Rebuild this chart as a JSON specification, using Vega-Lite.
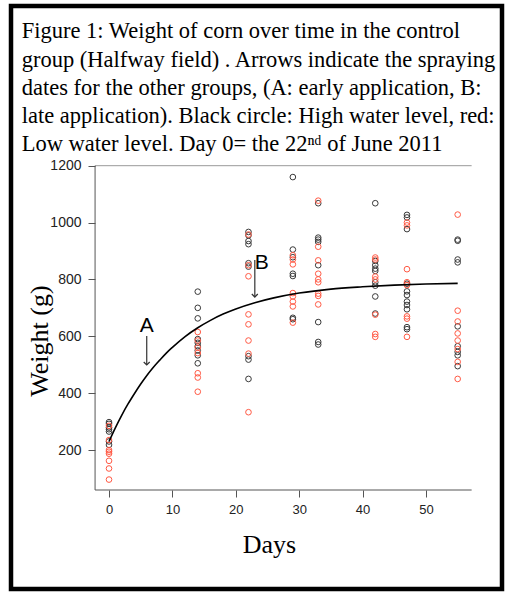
{
  "$schema": "https://vega.github.io/schema/vega-lite/v6.json",
  "width": 491,
  "height": 583,
  "autosize": {"type": "none"},
  "padding": {"left": 11, "top": 6, "right": 10, "bottom": 3},
  "background": "white",
  "config": {"view": {"stroke": "black", "strokeWidth": 4.5, "fill": "white"}},
  "title": {
    "text": [
      "Figure 1: Weight of corn over time in the control",
      "group (Halfway field) . Arrows indicate the spraying",
      "dates for the other groups, (A: early application, B:",
      "late application). Black circle: High water level, red:",
      "Low water level. Day 0= the 22ⁿᵈ of June 2011"
    ],
    "anchor": "start",
    "frame": "group",
    "font": "Liberation Serif",
    "fontSize": 22.5,
    "fontWeight": "normal",
    "color": "black",
    "lineHeight": 28.3,
    "baseline": "alphabetic",
    "offset": 0,
    "dx": 10.7,
    "dy": 168
  },
  "datasets": {
    "corn": [
      {"day": 0, "weight": 298, "water": "High"},
      {"day": 0, "weight": 292, "water": "High"},
      {"day": 0, "weight": 279, "water": "High"},
      {"day": 0, "weight": 273, "water": "High"},
      {"day": 0, "weight": 265, "water": "High"},
      {"day": 0, "weight": 230, "water": "High"},
      {"day": 0, "weight": 218, "water": "High"},
      {"day": 0, "weight": 285, "water": "Low"},
      {"day": 0, "weight": 235, "water": "Low"},
      {"day": 0, "weight": 200, "water": "Low"},
      {"day": 0, "weight": 194, "water": "Low"},
      {"day": 0, "weight": 187, "water": "Low"},
      {"day": 0, "weight": 162, "water": "Low"},
      {"day": 0, "weight": 135, "water": "Low"},
      {"day": 0, "weight": 96, "water": "Low"},
      {"day": 14, "weight": 757, "water": "High"},
      {"day": 14, "weight": 700, "water": "High"},
      {"day": 14, "weight": 663, "water": "High"},
      {"day": 14, "weight": 590, "water": "High"},
      {"day": 14, "weight": 577, "water": "High"},
      {"day": 14, "weight": 565, "water": "High"},
      {"day": 14, "weight": 550, "water": "High"},
      {"day": 14, "weight": 533, "water": "High"},
      {"day": 14, "weight": 505, "water": "High"},
      {"day": 14, "weight": 615, "water": "Low"},
      {"day": 14, "weight": 585, "water": "Low"},
      {"day": 14, "weight": 560, "water": "Low"},
      {"day": 14, "weight": 541, "water": "Low"},
      {"day": 14, "weight": 470, "water": "Low"},
      {"day": 14, "weight": 455, "water": "Low"},
      {"day": 14, "weight": 405, "water": "Low"},
      {"day": 22, "weight": 967, "water": "High"},
      {"day": 22, "weight": 955, "water": "High"},
      {"day": 22, "weight": 935, "water": "High"},
      {"day": 22, "weight": 924, "water": "High"},
      {"day": 22, "weight": 857, "water": "High"},
      {"day": 22, "weight": 845, "water": "High"},
      {"day": 22, "weight": 530, "water": "High"},
      {"day": 22, "weight": 518, "water": "High"},
      {"day": 22, "weight": 450, "water": "High"},
      {"day": 22, "weight": 958, "water": "Low"},
      {"day": 22, "weight": 850, "water": "Low"},
      {"day": 22, "weight": 811, "water": "Low"},
      {"day": 22, "weight": 677, "water": "Low"},
      {"day": 22, "weight": 642, "water": "Low"},
      {"day": 22, "weight": 585, "water": "Low"},
      {"day": 22, "weight": 539, "water": "Low"},
      {"day": 22, "weight": 333, "water": "Low"},
      {"day": 29, "weight": 1160, "water": "High"},
      {"day": 29, "weight": 905, "water": "High"},
      {"day": 29, "weight": 878, "water": "High"},
      {"day": 29, "weight": 820, "water": "High"},
      {"day": 29, "weight": 812, "water": "High"},
      {"day": 29, "weight": 665, "water": "High"},
      {"day": 29, "weight": 660, "water": "High"},
      {"day": 29, "weight": 885, "water": "Low"},
      {"day": 29, "weight": 870, "water": "Low"},
      {"day": 29, "weight": 853, "water": "Low"},
      {"day": 29, "weight": 752, "water": "Low"},
      {"day": 29, "weight": 740, "water": "Low"},
      {"day": 29, "weight": 722, "water": "Low"},
      {"day": 29, "weight": 705, "water": "Low"},
      {"day": 29, "weight": 648, "water": "Low"},
      {"day": 33, "weight": 1068, "water": "High"},
      {"day": 33, "weight": 947, "water": "High"},
      {"day": 33, "weight": 940, "water": "High"},
      {"day": 33, "weight": 932, "water": "High"},
      {"day": 33, "weight": 850, "water": "High"},
      {"day": 33, "weight": 650, "water": "High"},
      {"day": 33, "weight": 580, "water": "High"},
      {"day": 33, "weight": 571, "water": "High"},
      {"day": 33, "weight": 1077, "water": "Low"},
      {"day": 33, "weight": 915, "water": "Low"},
      {"day": 33, "weight": 867, "water": "Low"},
      {"day": 33, "weight": 820, "water": "Low"},
      {"day": 33, "weight": 800, "water": "Low"},
      {"day": 33, "weight": 790, "water": "Low"},
      {"day": 33, "weight": 750, "water": "Low"},
      {"day": 33, "weight": 742, "water": "Low"},
      {"day": 33, "weight": 712, "water": "Low"},
      {"day": 42, "weight": 1068, "water": "High"},
      {"day": 42, "weight": 865, "water": "High"},
      {"day": 42, "weight": 850, "water": "High"},
      {"day": 42, "weight": 838, "water": "High"},
      {"day": 42, "weight": 830, "water": "High"},
      {"day": 42, "weight": 790, "water": "High"},
      {"day": 42, "weight": 778, "water": "High"},
      {"day": 42, "weight": 740, "water": "High"},
      {"day": 42, "weight": 680, "water": "High"},
      {"day": 42, "weight": 877, "water": "Low"},
      {"day": 42, "weight": 870, "water": "Low"},
      {"day": 42, "weight": 810, "water": "Low"},
      {"day": 42, "weight": 800, "water": "Low"},
      {"day": 42, "weight": 676, "water": "Low"},
      {"day": 42, "weight": 608, "water": "Low"},
      {"day": 42, "weight": 598, "water": "Low"},
      {"day": 47, "weight": 1027, "water": "High"},
      {"day": 47, "weight": 1018, "water": "High"},
      {"day": 47, "weight": 977, "water": "High"},
      {"day": 47, "weight": 785, "water": "High"},
      {"day": 47, "weight": 758, "water": "High"},
      {"day": 47, "weight": 745, "water": "High"},
      {"day": 47, "weight": 722, "water": "High"},
      {"day": 47, "weight": 710, "water": "High"},
      {"day": 47, "weight": 695, "water": "High"},
      {"day": 47, "weight": 632, "water": "High"},
      {"day": 47, "weight": 625, "water": "High"},
      {"day": 47, "weight": 1000, "water": "Low"},
      {"day": 47, "weight": 990, "water": "Low"},
      {"day": 47, "weight": 836, "water": "Low"},
      {"day": 47, "weight": 790, "water": "Low"},
      {"day": 47, "weight": 780, "water": "Low"},
      {"day": 47, "weight": 670, "water": "Low"},
      {"day": 47, "weight": 662, "water": "Low"},
      {"day": 47, "weight": 598, "water": "Low"},
      {"day": 55, "weight": 940, "water": "High"},
      {"day": 55, "weight": 936, "water": "High"},
      {"day": 55, "weight": 870, "water": "High"},
      {"day": 55, "weight": 860, "water": "High"},
      {"day": 55, "weight": 635, "water": "High"},
      {"day": 55, "weight": 565, "water": "High"},
      {"day": 55, "weight": 545, "water": "High"},
      {"day": 55, "weight": 533, "water": "High"},
      {"day": 55, "weight": 495, "water": "High"},
      {"day": 55, "weight": 1028, "water": "Low"},
      {"day": 55, "weight": 690, "water": "Low"},
      {"day": 55, "weight": 652, "water": "Low"},
      {"day": 55, "weight": 610, "water": "Low"},
      {"day": 55, "weight": 585, "water": "Low"},
      {"day": 55, "weight": 555, "water": "Low"},
      {"day": 55, "weight": 510, "water": "Low"},
      {"day": 55, "weight": 450, "water": "Low"}
    ],
    "curve": [
      {"day": 0, "weight": 230},
      {"day": 1, "weight": 278},
      {"day": 2, "weight": 322},
      {"day": 3, "weight": 362},
      {"day": 4, "weight": 398},
      {"day": 5, "weight": 432},
      {"day": 6, "weight": 463},
      {"day": 7, "weight": 491},
      {"day": 8, "weight": 516},
      {"day": 9, "weight": 540},
      {"day": 10, "weight": 561},
      {"day": 12, "weight": 599},
      {"day": 14, "weight": 630},
      {"day": 16, "weight": 656},
      {"day": 18, "weight": 678},
      {"day": 20, "weight": 696},
      {"day": 23, "weight": 718},
      {"day": 26, "weight": 735},
      {"day": 30, "weight": 752},
      {"day": 35, "weight": 766},
      {"day": 40, "weight": 774},
      {"day": 45, "weight": 780},
      {"day": 50, "weight": 784},
      {"day": 55, "weight": 786}
    ],
    "arrows": [
      {"label": "A", "day": 5.95, "start": 601, "tip": 499, "labelDay": 5.95, "labelWeight": 615},
      {"label": "B", "day": 23.0, "start": 868, "tip": 738, "labelDay": 24.1, "labelWeight": 837}
    ],
    "one": [{}]
  },
  "layer": [
    {
      "data": {"name": "one"},
      "mark": {"type": "rule", "color": "#999999", "strokeWidth": 1},
      "encoding": {
        "x": {"datum": -2.2, "type": "quantitative"},
        "x2": {"datum": 57.2},
        "y": {"datum": 1200, "type": "quantitative"}
      }
    },
    {
      "data": {"name": "one"},
      "mark": {"type": "rule", "color": "#555555", "strokeWidth": 1},
      "encoding": {
        "x": {"datum": -2.2, "type": "quantitative"},
        "x2": {"datum": 57.2},
        "y": {"datum": 59.3, "type": "quantitative"}
      }
    },
    {
      "data": {"name": "one"},
      "mark": {"type": "rule", "color": "#555555", "strokeWidth": 1},
      "encoding": {
        "x": {"datum": -2.2, "type": "quantitative"},
        "y": {"datum": 59.3, "type": "quantitative"},
        "y2": {"datum": 1200}
      }
    },
    {
      "data": {"name": "corn"},
      "mark": {"type": "point", "shape": "circle", "filled": false, "size": 32, "strokeWidth": 1, "opacity": 1},
      "encoding": {
        "x": {
          "field": "day", "type": "quantitative",
          "scale": {"domain": [-15.46, 61.99], "nice": false, "zero": false},
          "axis": {
            "title": "Days", "values": [0, 10, 20, 30, 40, 50], "offset": -99, "format": "d",
            "domain": false, "grid": false, "tickSize": 7, "tickColor": "#555555",
            "labelFont": "Liberation Sans", "labelFontSize": 13, "labelColor": "#222222", "labelPadding": 6,
            "titleFont": "Liberation Serif", "titleFontSize": 26, "titleFontWeight": "normal", "titleColor": "black",
            "titleX": 258, "titleY": 62, "titleBaseline": "alphabetic", "titleAlign": "center"
          }
        },
        "y": {
          "field": "weight", "type": "quantitative",
          "scale": {"domain": [-288.9, 1761.7], "nice": false, "zero": false},
          "axis": {
            "title": "Weight (g)", "values": [200, 400, 600, 800, 1000, 1200], "offset": -84, "format": "d",
            "domain": false, "grid": false, "tickSize": 7, "tickColor": "#555555",
            "labelFont": "Liberation Sans", "labelFontSize": 14, "labelColor": "#222222", "labelPadding": 7,
            "titleFont": "Liberation Serif", "titleFontSize": 26, "titleFontWeight": "normal", "titleColor": "black",
            "titleAngle": -90, "titleX": -56, "titleY": 334.5, "titleBaseline": "middle", "titleAlign": "center"
          }
        },
        "color": {
          "field": "water", "type": "nominal",
          "scale": {"domain": ["High", "Low"], "range": ["#3a3a3a", "#ff5a45"]},
          "legend": null
        }
      }
    },
    {
      "data": {"name": "curve"},
      "mark": {"type": "line", "color": "black", "strokeWidth": 1.6, "interpolate": "monotone"},
      "encoding": {
        "x": {"field": "day", "type": "quantitative"},
        "y": {"field": "weight", "type": "quantitative"}
      }
    },
    {
      "data": {"name": "arrows"},
      "mark": {"type": "rule", "color": "#333333", "strokeWidth": 1.2},
      "encoding": {
        "x": {"field": "day", "type": "quantitative"},
        "y": {"field": "start", "type": "quantitative"},
        "y2": {"field": "tip"}
      }
    },
    {
      "data": {"name": "arrows"},
      "mark": {"type": "point", "shape": "M-1,-1L0,0L1,-1", "filled": false, "size": 36, "strokeWidth": 1.2, "color": "#333333", "opacity": 1},
      "encoding": {
        "x": {"field": "day", "type": "quantitative"},
        "y": {"field": "tip", "type": "quantitative"}
      }
    },
    {
      "data": {"name": "arrows"},
      "mark": {"type": "text", "font": "Liberation Sans", "fontSize": 21, "color": "black", "align": "center", "baseline": "alphabetic"},
      "encoding": {
        "x": {"field": "labelDay", "type": "quantitative"},
        "y": {"field": "labelWeight", "type": "quantitative"},
        "text": {"field": "label"}
      }
    }
  ]
}
